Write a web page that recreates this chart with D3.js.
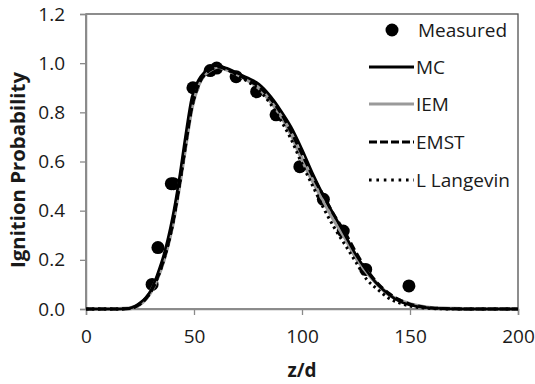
<!DOCTYPE html>
<html><head><meta charset="utf-8">
<script src="https://cdn.jsdelivr.net/npm/d3@7"></script>
<style>body{margin:0;background:#fff}svg{display:block}text{font-family:"Open Sans",sans-serif}</style>
</head><body><svg id="c" width="535" height="384"></svg>
<script>
const measuredZ = [30.6, 33.3, 39.5, 40.5, 49.5, 57.5, 60.5, 69.5, 79, 88, 99, 109.9, 119.1, 129.5, 149.5];
const measuredP = [0.10, 0.25, 0.51, 0.51, 0.90, 0.97, 0.98, 0.945, 0.884, 0.79, 0.579, 0.446, 0.317, 0.161, 0.094];

const curveZ   = [0, 5, 10, 15, 20, 25, 28, 30, 33, 36, 40, 43, 46, 49, 52, 55, 58, 61, 65, 70, 75, 80, 85, 90, 95, 100, 105, 110, 115, 120, 125, 130, 135, 140, 145, 150, 155, 160, 170, 180, 190, 200];
const mcP      = [0, 0, 0, 0, 0.003, 0.025, 0.05, 0.075, 0.14, 0.22, 0.37, 0.52, 0.70, 0.86, 0.93, 0.965, 0.985, 0.99, 0.98, 0.96, 0.94, 0.915, 0.87, 0.81, 0.74, 0.65, 0.55, 0.46, 0.38, 0.30, 0.22, 0.155, 0.10, 0.06, 0.032, 0.016, 0.008, 0.004, 0.001, 0, 0, 0];
const iemP     = [0, 0, 0, 0, 0.002, 0.02, 0.045, 0.07, 0.125, 0.20, 0.34, 0.49, 0.66, 0.82, 0.91, 0.955, 0.975, 0.985, 0.975, 0.955, 0.93, 0.90, 0.85, 0.79, 0.71, 0.61, 0.52, 0.44, 0.36, 0.29, 0.21, 0.15, 0.10, 0.06, 0.035, 0.02, 0.01, 0.004, 0.001, 0, 0, 0];
const emstP    = [0, 0, 0, 0, 0.002, 0.02, 0.045, 0.07, 0.125, 0.20, 0.34, 0.49, 0.66, 0.82, 0.91, 0.955, 0.975, 0.985, 0.975, 0.955, 0.93, 0.905, 0.86, 0.80, 0.72, 0.63, 0.54, 0.46, 0.38, 0.31, 0.23, 0.16, 0.105, 0.065, 0.038, 0.02, 0.01, 0.004, 0.001, 0, 0, 0];
const langP    = [0, 0, 0, 0, 0.002, 0.02, 0.045, 0.07, 0.125, 0.20, 0.34, 0.49, 0.66, 0.82, 0.91, 0.955, 0.975, 0.985, 0.975, 0.95, 0.925, 0.89, 0.84, 0.77, 0.69, 0.59, 0.50, 0.41, 0.33, 0.26, 0.19, 0.12, 0.08, 0.045, 0.025, 0.012, 0.005, 0.002, 0, 0, 0, 0];

const xTicks = [0, 50, 100, 150, 200];
const yTicks = [0, 0.2, 0.4, 0.6, 0.8, 1.0, 1.2];
const legendLabels = ["Measured", "MC", "IEM", "EMST", "L Langevin"];

const svg = d3.select("#c");
const W = 535, H = 384;
const m = {l: 86, r: 17, t: 14, b: 75};
const x = d3.scaleLinear().domain([0, 200]).range([m.l, W - m.r]);
const y = d3.scaleLinear().domain([0, 1.2]).range([H - m.b, m.t]);
const FS = 19;
const txt = "#1a1a1a";

// frame
svg.append("rect").attr("x", m.l).attr("y", m.t).attr("width", W - m.l - m.r).attr("height", H - m.t - m.b)
  .attr("fill", "none").attr("stroke", "#505050").attr("stroke-width", 1.3);

const axisColor = "#8a8a8a";
const gx = svg.append("g").attr("transform", `translate(0,${H - m.b})`)
  .call(d3.axisBottom(x).tickValues(xTicks).tickSize(6).tickPadding(15).tickFormat(d3.format("d")));
const gy = svg.append("g").attr("transform", `translate(${m.l},0)`)
  .call(d3.axisLeft(y).tickValues(yTicks).tickSize(6).tickPadding(15).tickFormat(d3.format(".1f")));
[gx, gy].forEach(g => {
  g.select(".domain").attr("stroke", axisColor).attr("stroke-width", 1.5);
  g.selectAll(".tick line").attr("stroke", axisColor).attr("stroke-width", 1.3);
  g.selectAll("text").attr("font-size", FS).attr("fill", txt).attr("font-family", "Open Sans");
});

svg.append("text").attr("x", x(100)).attr("y", 377).attr("text-anchor", "middle")
  .attr("font-size", FS).attr("font-weight", "bold").attr("fill", txt).text("z/d");
svg.append("text").attr("transform", `translate(25,170) rotate(-90)`)
  .attr("text-anchor", "middle").attr("font-size", FS).attr("font-weight", "bold").attr("fill", txt)
  .attr("textLength", 196).attr("lengthAdjust", "spacingAndGlyphs")
  .text("Ignition Probability");

// points
svg.append("g").selectAll("circle").data(measuredZ).join("circle")
  .attr("cx", d => x(d)).attr("cy", (d, i) => y(measuredP[i])).attr("r", 6.5).attr("fill", "#000");

const line = d3.line().x((d, i) => x(curveZ[i])).y(d => y(d)).curve(d3.curveMonotoneX);
const styles = [
  {data: iemP, stroke: "#9a9a9a", w: 4, dash: null},
  {data: mcP, stroke: "#000", w: 2.6, dash: null},
  {data: emstP, stroke: "#000", w: 3, dash: "8,4"},
  {data: langP, stroke: "#000", w: 3, dash: "2.5,3.5"}
];
styles.forEach(s => {
  svg.append("path").datum(s.data).attr("d", line).attr("fill", "none")
    .attr("stroke", s.stroke).attr("stroke-width", s.w).attr("stroke-dasharray", s.dash);
});

// legend
const lg = svg.append("g");
const ly = [30, 67, 104, 142, 180];
lg.append("circle").attr("cx", 392).attr("cy", ly[0]).attr("r", 6.5).attr("fill", "#000");
const legStyles = [null,
  {stroke: "#000", w: 3, dash: null},
  {stroke: "#9a9a9a", w: 3, dash: null},
  {stroke: "#000", w: 3, dash: "8,3"},
  {stroke: "#000", w: 2.8, dash: "2.6,4.8"}];
legendLabels.forEach((t, i) => {
  if (i > 0) {
    const s = legStyles[i];
    lg.append("line").attr("x1", 369).attr("x2", 414).attr("y1", ly[i]).attr("y2", ly[i])
      .attr("stroke", s.stroke).attr("stroke-width", s.w).attr("stroke-dasharray", s.dash);
  }
  lg.append("text").attr("x", i === 0 ? 418 : 416).attr("y", ly[i]).attr("dy", "0.36em")
    .attr("font-size", FS).attr("fill", txt).text(t);
});
</script></body></html>
